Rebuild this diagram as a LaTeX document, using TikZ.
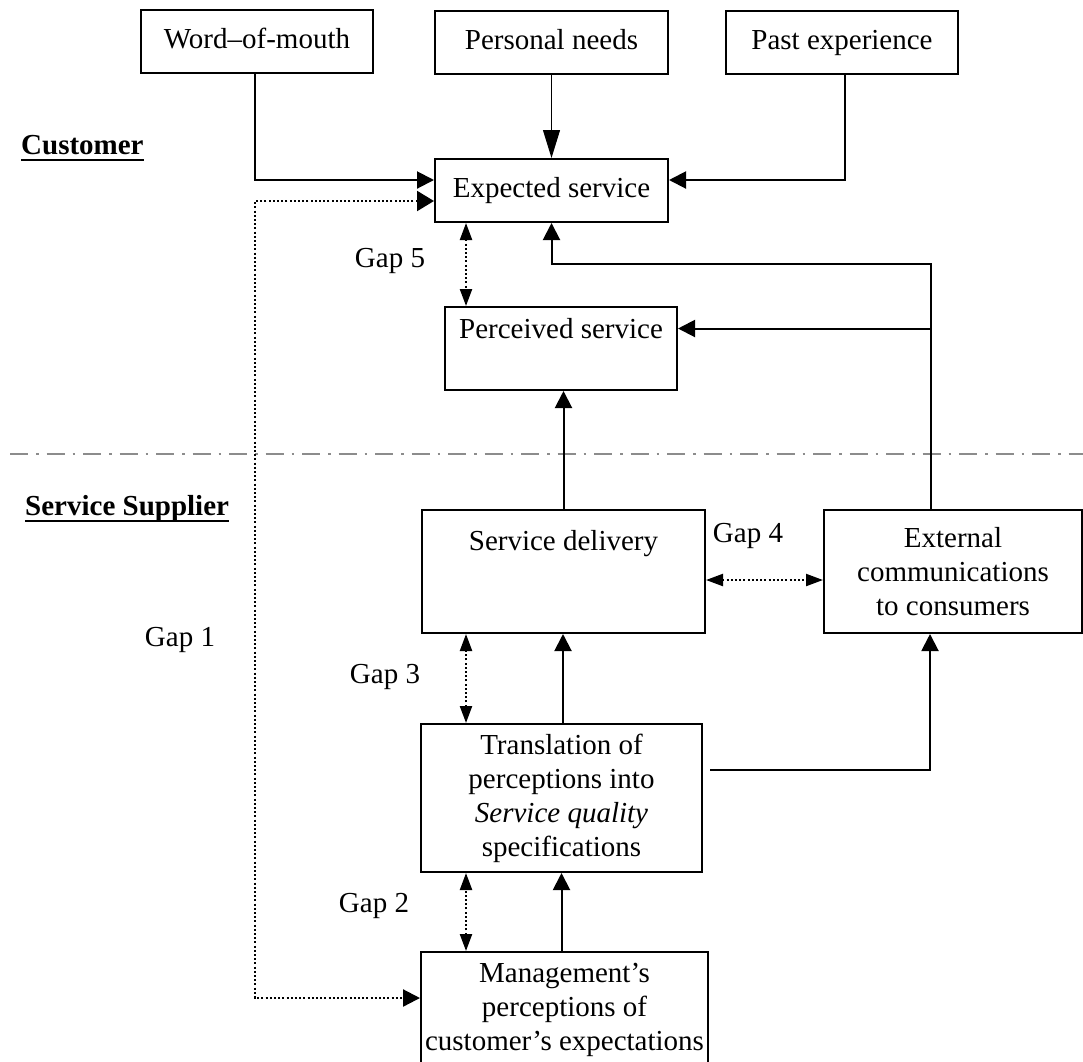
\documentclass[tikz,border=0pt]{standalone}
\usepackage{fontspec}
\setmainfont{Liberation Serif}
\usetikzlibrary{arrows.meta}
\begin{document}
\begin{tikzpicture}[x=1pt,y=-1pt,
  box/.style={draw, line width=2pt, inner sep=0pt, align=center, font=\fontsize{29}{34}\selectfont},
  oneline/.style={text height=20pt, text depth=6pt},
  lbl/.style={inner sep=0pt, anchor=base, font=\fontsize{29}{34}\selectfont},
  head/.style={inner sep=0pt, anchor=base west, font=\fontsize{29}{34}\selectfont\bfseries},
  uline/.style={line width=2.5pt},
  arr/.style={line width=2pt, -{Triangle[length=17pt,width=17pt]}},
  thinarr/.style={line width=1pt, -{Triangle[length=28pt,width=17pt]}},
  gaparr/.style={line width=2.2pt, dash pattern=on 2pt off 2.2pt, {Triangle[length=17pt,width=12pt]}-{Triangle[length=17pt,width=12pt]}},
  gapone/.style={line width=2.2pt, dash pattern=on 2pt off 2.2pt, {Triangle[length=17pt,width=20pt]}-{Triangle[length=17pt,width=17pt]}},
  sep/.style={line width=2.5pt, color=black!45, dash pattern=on 18pt off 8pt on 2.5pt off 8pt}
]
\useasboundingbox (0,0) rectangle (1083,1061);

% boxes
\node[box, oneline, minimum width=232pt, minimum height=63pt] (wom) at (257,41.5) {Word–of-mouth};
\node[box, oneline, minimum width=233pt, minimum height=63pt] (pn) at (551.5,42.5) {Personal needs};
\node[box, oneline, minimum width=232pt, minimum height=63pt] (pe) at (842,42.5) {Past experience};
\node[box, oneline, minimum width=233pt, minimum height=63pt] (exp) at (551.5,190.5) {Expected service};
\node[box, minimum width=232pt, text height=31pt, text depth=52pt] (per) at (561,348.5) {Perceived service};
\node[box, minimum width=283pt, text height=40pt, text depth=83pt] (sd) at (563.5,571.5) {Service delivery};
\node[box, minimum width=258pt, minimum height=123pt] (ext) at (953,571.5) {External\\communications\\to consumers};
\node[box, minimum width=281pt, minimum height=148pt] (tr) at (561.5,798) {Translation of\\perceptions into\\\textit{Service quality}\\specifications};
\node[box, minimum width=287pt, minimum height=116pt] (mg) at (564.5,1010) {Management’s\\perceptions of\\customer’s expectations};

% headings
\node[head] (cust) at (21,154) {Customer};
\draw[uline] ([yshift=-6pt]cust.base west) -- ([yshift=-6pt]cust.base east);
\node[head] (sup) at (25,515) {Service Supplier};
\draw[uline] ([yshift=-6pt]sup.base west) -- ([yshift=-6pt]sup.base east);

% separator
\draw[sep] (10,454) -- (1083,454);

% gap labels
\node[lbl] (g5) at (390,267) {Gap 5};
\node[lbl] (g4) at (748,542) {Gap 4};
\node[lbl] (g1) at (180,646) {Gap 1};
\node[lbl] (g3) at (385,683) {Gap 3};
\node[lbl] (g2) at (374,912) {Gap 2};

% helper coordinates
\coordinate (gx) at (466,0);
\coordinate (g1c) at (255,600);
\coordinate (j) at (931,264);
\coordinate (perE) at ([yshift=20pt]per.east);

% customer side connectors
\draw[arr] ([xshift=-2pt]wom.south) |- ([yshift=10.5pt]exp.west);
\draw[thinarr] (pn.south) -- (exp.north);
\draw[arr] ([xshift=3pt]pe.south) |- ([yshift=10.5pt]exp.east);
\draw[gaparr] (exp.south -| gx) -- (per.north -| gx);
\draw[arr] ([xshift=-22pt]ext.north) -- (j) -| (exp.south);
\draw[arr] (perE -| j) -- (perE);

% supplier side connectors
\draw[arr] (sd.north) -- (sd.north |- per.south);
\draw[gaparr] ([yshift=-8.5pt]sd.east) -- ([yshift=-8.5pt]sd.east -| ext.west);
\draw[gaparr] (tr.north -| gx) -- (sd.south -| gx);
\draw[arr] ([xshift=1.5pt]tr.north) -- ([xshift=1.5pt]tr.north |- sd.south);
\draw[arr] ([xshift=7pt,yshift=28pt]tr.east) -| ([xshift=-23pt]ext.south);
\draw[gaparr] (mg.north -| gx) -- (tr.south -| gx);
\draw[arr] (tr.south |- mg.north) -- (tr.south);
\draw[gapone] ([yshift=-10.5pt]exp.west) -| (g1c) |- ([yshift=12pt]mg.west);
\end{tikzpicture}
\end{document}
